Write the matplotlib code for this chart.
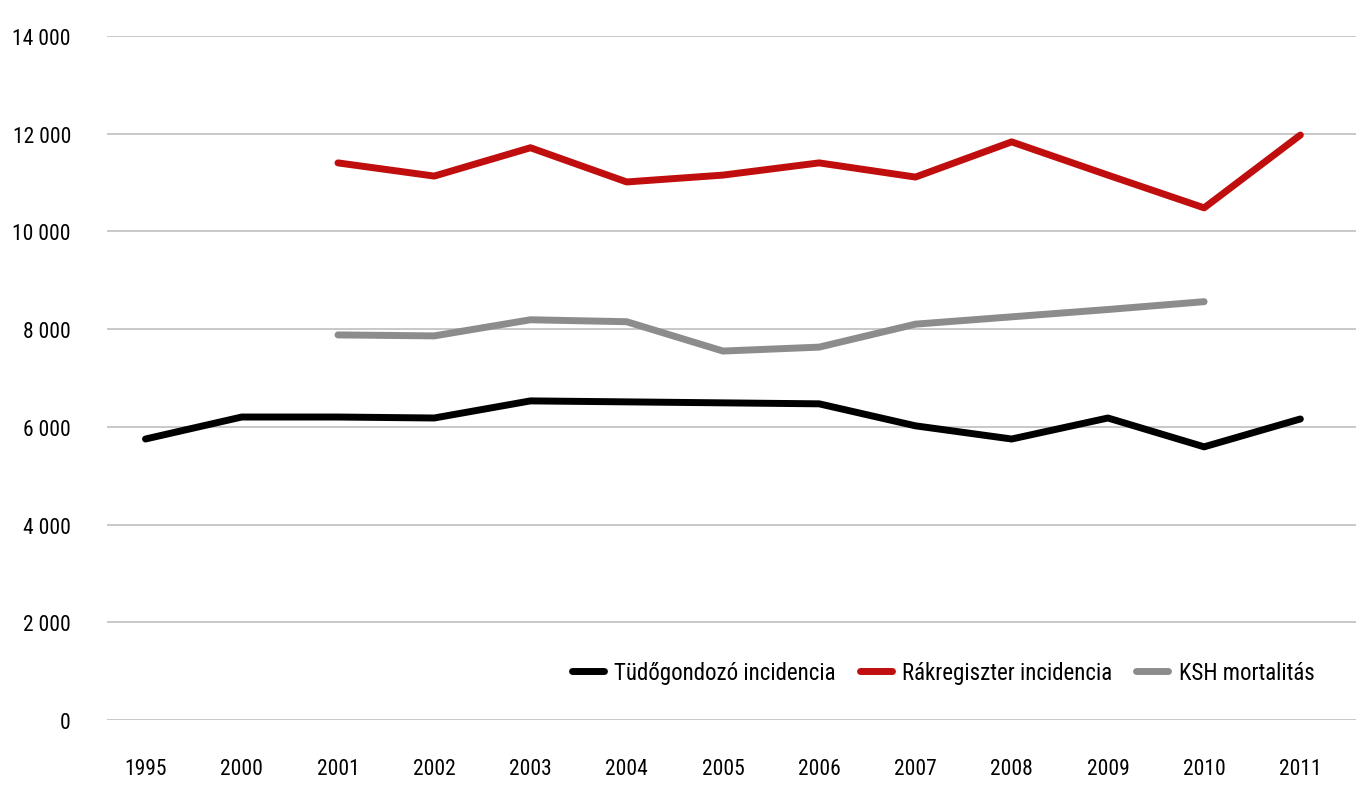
import numpy as np
import matplotlib.pyplot as plt
from matplotlib.ticker import FuncFormatter
from matplotlib import font_manager

# condensed font if there is one, otherwise plain DejaVu
names = set(f.name for f in font_manager.fontManager.ttflist)
cond = [n for n in ['Liberation Sans Narrow', 'Roboto Condensed', 'Open Sans Condensed',
                    'DejaVu Sans Condensed'] if n in names]
plt.rcParams['font.family'] = cond + ['DejaVu Sans']
plt.rcParams['font.stretch'] = 'condensed'

years = ['1995', '2000', '2001', '2002', '2003', '2004', '2005',
         '2006', '2007', '2008', '2009', '2010', '2011']

# Tüdőgondozó incidencia (all years)
tudo = [5750, 6200, 6200, 6180, 6530, 6510, 6490, 6470, 6020, 5750, 6180, 5590, 6160]
# Rákregiszter incidencia (2001-2011)
rak = [11400, 11130, 11710, 11010, 11150, 11400, 11110, 11830, 11150, 10480, 11970]
# KSH mortalitás (2001-2010)
ksh = [7880, 7860, 8190, 8150, 7550, 7630, 8100, 8250, 8400, 8560]

x = np.arange(len(years))

fig = plt.figure(figsize=(13.63, 8.04), dpi=100)
ax = fig.add_axes([0.0785, 0.1032, 0.9165, 0.851])

ax.plot(x, tudo, color='black', lw=5, solid_capstyle='round',
        label='Tüdőgondozó incidencia')
ax.plot(x[2:], rak, color='#C00D0D', lw=5, solid_capstyle='round',
        label='Rákregiszter incidencia')
ax.plot(x[2:12], ksh, color='#8C8C8C', lw=5, solid_capstyle='round',
        label='KSH mortalitás')

ax.set_ylim(0, 14000)
ax.set_yticks(np.arange(0, 14001, 2000))
ax.yaxis.set_major_formatter(FuncFormatter(lambda v, p: f'{int(v):,}'.replace(',', ' ')))
ax.set_xlim(-0.4, 12.58)
ax.set_xticks(x)
ax.set_xticklabels(years)

ax.grid(axis='y', color='#BFBFBF', lw=1.2)
ax.set_axisbelow(True)
for s in ax.spines.values():
    s.set_visible(False)
ax.tick_params(axis='both', length=0, labelsize=15.5)
ax.tick_params(axis='y', pad=26)
ax.tick_params(axis='x', pad=27)

ax.legend(loc='lower right', bbox_to_anchor=(0.983, 0.022), ncol=3, frameon=False,
          fontsize=16.5, handlelength=1.4, columnspacing=1.05, handletextpad=0.45)

fig.savefig('out.png', dpi=100)
